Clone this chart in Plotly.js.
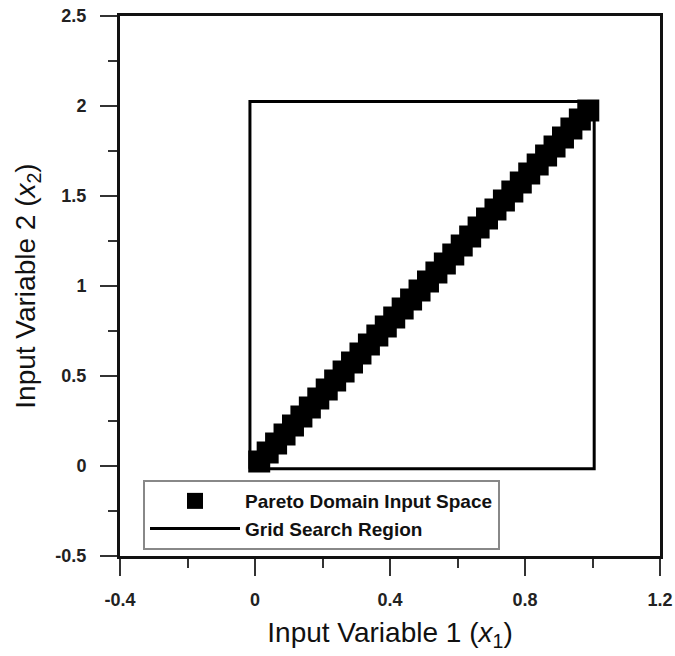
<!DOCTYPE html>
<html>
<head>
<meta charset="utf-8">
<script src="https://cdn.plot.ly/plotly-3.0.1.min.js"></script>
<style>html,body{margin:0;padding:0;background:#fff;}#chart{width:675px;height:656px;}</style>
</head>
<body>
<div id="chart"></div>
<script>
// Pareto domain input space points (x1, x2)
const paretoX1 = [0.0125, 0.0375, 0.0625, 0.0875, 0.1125, 0.1375, 0.1625, 0.1875, 0.2125, 0.2375,
                  0.2625, 0.2875, 0.3125, 0.3375, 0.3625, 0.3875, 0.4125, 0.4375, 0.4625, 0.4875,
                  0.5125, 0.5375, 0.5625, 0.5875, 0.6125, 0.6375, 0.6625, 0.6875, 0.7125, 0.7375,
                  0.7625, 0.7875, 0.8125, 0.8375, 0.8625, 0.8875, 0.9125, 0.9375, 0.9625, 0.9875];
const paretoX2 = [0.025, 0.075, 0.125, 0.175, 0.225, 0.275, 0.325, 0.375, 0.425, 0.475,
                  0.525, 0.575, 0.625, 0.675, 0.725, 0.775, 0.825, 0.875, 0.925, 0.975,
                  1.025, 1.075, 1.125, 1.175, 1.225, 1.275, 1.325, 1.375, 1.425, 1.475,
                  1.525, 1.575, 1.625, 1.675, 1.725, 1.775, 1.825, 1.875, 1.925, 1.975];
// Grid search region outline
const gridX1 = [-0.015, 1.005, 1.005, -0.015, -0.015];
const gridX2 = [-0.015, -0.015, 2.025, 2.025, -0.015];

const xTickVals = [-0.4, 0, 0.4, 0.8, 1.2];
const xTickText = ['-0.4', '0', '0.4', '0.8', '1.2'];
const yTickVals = [-0.5, 0, 0.5, 1, 1.5, 2, 2.5];
const yTickText = ['-0.5', '0', '0.5', '1', '1.5', '2', '2.5'];

const FONT = 'Arial, "Liberation Sans", sans-serif';

const traces = [
  {
    type: 'scatter', mode: 'markers', name: 'Pareto Domain Input Space',
    x: paretoX1, y: paretoX2,
    marker: {symbol: 'square', size: 22, color: '#000', line: {width: 0}}
  },
  {
    type: 'scatter', mode: 'lines', name: 'Grid Search Region',
    x: gridX1, y: gridX2,
    line: {color: '#000', width: 3}
  }
];

const axisCommon = {
  showgrid: false, zeroline: false,
  showline: true, linecolor: '#111', linewidth: 3, mirror: true,
  ticks: 'outside', ticklen: 17, tickwidth: 2, tickcolor: '#333',
  tickfont: {family: FONT, size: 18, color: '#222', weight: 'bold'},
  tickmode: 'array'
};

const layout = {
  width: 675, height: 656,
  margin: {l: 120, r: 15, t: 16, b: 100},
  paper_bgcolor: '#fff', plot_bgcolor: '#fff',
  showlegend: true,
  xaxis: Object.assign({}, axisCommon, {
    range: [-0.4, 1.2], tickvals: xTickVals, ticktext: xTickText,
    ticklabelstandoff: 8,
    minor: {tickmode: 'array', tickvals: [-0.2, 0.2, 0.6, 1.0], ticks: 'outside', ticklen: 9, tickwidth: 2, tickcolor: '#333'},
    title: {text: 'Input Variable 1 (<i>x</i><sub>1</sub>)', standoff: 14,
            font: {family: FONT, size: 28, color: '#111'}}
  }),
  yaxis: Object.assign({}, axisCommon, {
    range: [-0.5, 2.5], tickvals: yTickVals, ticktext: yTickText,
    ticklabelstandoff: 10,
    minor: {tickmode: 'array', tickvals: [-0.25, 0.25, 0.75, 1.25, 1.75, 2.25], ticks: 'outside', ticklen: 9, tickwidth: 2, tickcolor: '#333'},
    title: {text: 'Input Variable 2 (<i>x</i><sub>2</sub>)', standoff: 12,
            font: {family: FONT, size: 28, color: '#111'}}
  }),
  legend: {
    x: 0.0426, y: 0.1407, xanchor: 'left', yanchor: 'top',
    bgcolor: '#fff', bordercolor: '#888', borderwidth: 2,
    itemwidth: 90, traceorder: 'normal',
    font: {family: FONT, size: 19, color: '#111', weight: 'bold'}
  }
};

Plotly.newPlot('chart', traces, layout, {displayModeBar: false, staticPlot: true});
</script>
</body>
</html>
